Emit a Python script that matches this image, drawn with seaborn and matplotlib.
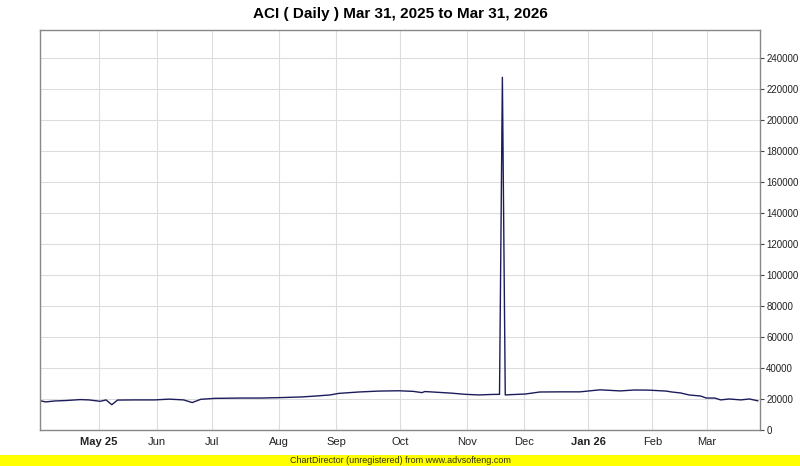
import seaborn as sns
import matplotlib.pyplot as plt
import matplotlib.patches as mpatches
import pandas as pd

# session index (trading days from Mar 31, 2025) and close values
session = [0, 2, 5, 9, 14, 17, 21, 23, 25, 27, 33, 40, 45, 50, 53, 56, 61, 70, 77, 84,
           91, 96, 101, 104, 111, 118, 125, 130, 133, 134, 143, 148, 153, 157, 160, 161, 162,
           164, 169, 174, 181, 188, 195, 202, 207, 212, 218, 220, 223, 226, 230, 232, 235,
           237, 240, 244, 247, 250]
close = [18900, 18100, 18700, 19000, 19600, 19400, 18500, 19400, 16300, 19300, 19400, 19400,
         19900, 19400, 17700, 19800, 20400, 20600, 20600, 20900, 21300, 21900, 22600, 23600,
         24500, 25100, 25300, 24900, 24100, 24800, 23800, 23000, 22600, 22900, 23000, 227500,
         22600, 22800, 23200, 24500, 24600, 24600, 25900, 25200, 25800, 25700, 25100, 24500,
         23900, 22600, 21900, 20600, 20600, 19400, 20000, 19400, 20000, 18800]

month_pos = [20.6, 40.8, 60.0, 83.3, 103.1, 125.3, 148.8, 168.6, 190.9, 213.2, 232.1]
month_lbl = ['May 25', 'Jun', 'Jul', 'Aug', 'Sep', 'Oct', 'Nov', 'Dec', 'Jan 26', 'Feb', 'Mar']
y_ticks = list(range(0, 240001, 20000))

df = pd.DataFrame({'session': session, 'close': close})

sns.set_theme(style='white')
plt.rcParams['font.family'] = ['Liberation Sans', 'DejaVu Sans']

fig = plt.figure(figsize=(8, 4.66), dpi=100)
ax = fig.add_axes([0.05, 0.0773, 0.90, 0.8584])

sns.lineplot(data=df, x='session', y='close', ax=ax, color='#1c1c5c', linewidth=1.0)

ax.set_xlim(0, 250.7)
ax.set_ylim(0, 258065)
ax.set_xticks(month_pos)
ax.set_xticklabels(month_lbl, fontsize=8, color='#222222')
for lbl in ax.get_xticklabels():
    if lbl.get_text() in ('May 25', 'Jan 26'):
        lbl.set_fontweight('bold')
ax.set_yticks(y_ticks)
ax.set_yticklabels([str(v) for v in y_ticks], fontsize=7, color='#222222')
ax.yaxis.tick_right()
ax.tick_params(axis='y', direction='out', length=3, width=0.8, color='#444444', pad=1.5)
ax.tick_params(axis='x', length=0, pad=5)
ax.grid(True, color='#dddddd', linewidth=0.8)
ax.set_axisbelow(True)
for s in ax.spines.values():
    s.set_color('#888888')
    s.set_linewidth(1.0)
ax.set_xlabel('')
ax.set_ylabel('')

fig.suptitle('ACI ( Daily ) Mar 31, 2025 to Mar 31, 2026', y=0.985, fontsize=11,
             fontweight='bold', color='#000000')

# yellow footer band
fig.patches.append(mpatches.Rectangle((0, 0), 1, 11 / 466, transform=fig.transFigure,
                                      facecolor='#ffff00', edgecolor='none', zorder=0))
fig.text(0.5, 5.5 / 466, 'ChartDirector (unregistered) from www.advsofteng.com',
         ha='center', va='center', fontsize=6.5, color='#333300')

plt.savefig('out.png', dpi=100)
plt.close()
